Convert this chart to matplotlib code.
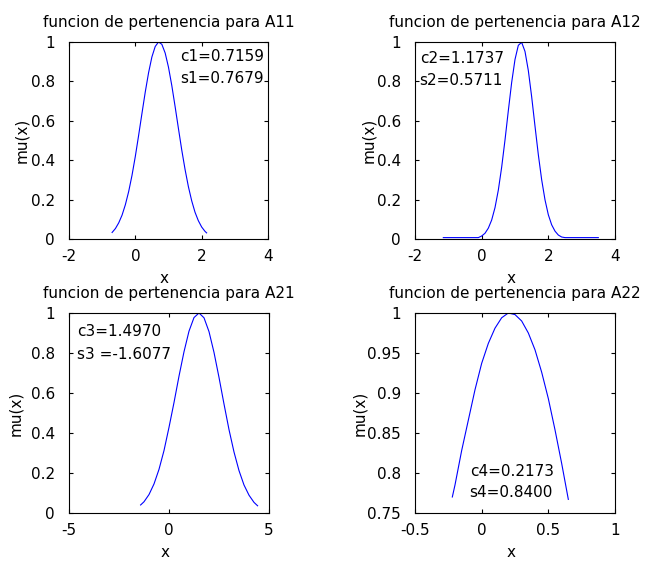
import matplotlib
matplotlib.use("Agg")
import matplotlib.pyplot as plt

# membership curves
x_a11 = [-0.70, -0.60, -0.50, -0.40, -0.30, -0.20, -0.10, 0.00, 0.10, 0.20,
         0.30, 0.40, 0.50, 0.60, 0.70, 0.80, 0.90, 1.00, 1.10, 1.20,
         1.30, 1.40, 1.50, 1.60, 1.70, 1.80, 1.90, 2.00, 2.10, 2.15]
y_a11 = [0.033, 0.053, 0.082, 0.121, 0.174, 0.241, 0.323, 0.419, 0.526, 0.637,
         0.746, 0.844, 0.924, 0.977, 1.000, 0.988, 0.944, 0.872, 0.779, 0.672,
         0.561, 0.452, 0.353, 0.266, 0.194, 0.136, 0.093, 0.061, 0.039, 0.031]

x_a12 = [-1.15, -0.10, 0.00, 0.10, 0.20, 0.30, 0.40, 0.50, 0.60, 0.70,
         0.80, 0.90, 1.00, 1.10, 1.20, 1.30, 1.40, 1.50, 1.60, 1.70,
         1.80, 1.90, 2.00, 2.10, 2.20, 2.30, 2.40, 2.50, 3.50]
y_a12 = [0.007, 0.007, 0.015, 0.029, 0.055, 0.096, 0.159, 0.248, 0.364, 0.502,
         0.651, 0.794, 0.911, 0.983, 0.998, 0.952, 0.855, 0.722, 0.573, 0.428,
         0.301, 0.199, 0.123, 0.072, 0.040, 0.020, 0.010, 0.007, 0.007]

x_a21 = [-1.42, -1.25, -1.00, -0.75, -0.50, -0.25, 0.00, 0.25, 0.50, 0.75,
         1.00, 1.25, 1.50, 1.75, 2.00, 2.25, 2.50, 2.75, 3.00, 3.25,
         3.50, 3.75, 4.00, 4.25, 4.43]
y_a21 = [0.040, 0.056, 0.092, 0.145, 0.218, 0.312, 0.428, 0.552, 0.684, 0.806,
         0.909, 0.977, 1.000, 0.976, 0.907, 0.803, 0.678, 0.545, 0.417, 0.305,
         0.212, 0.140, 0.089, 0.053, 0.036]

x_a22 = [-0.22, -0.20, -0.15, -0.10, -0.05, 0.00, 0.05, 0.10, 0.15, 0.20,
         0.25, 0.30, 0.35, 0.40, 0.45, 0.50, 0.55, 0.60, 0.65]
y_a22 = [0.770, 0.785, 0.828, 0.866, 0.904, 0.937, 0.962, 0.981, 0.994, 1.000,
         0.998, 0.990, 0.975, 0.954, 0.926, 0.893, 0.854, 0.812, 0.767]

titles = ["funcion de pertenencia para A11", "funcion de pertenencia para A12",
          "funcion de pertenencia para A21", "funcion de pertenencia para A22"]
notes = [("c1=0.7159", "s1=0.7679"), ("c2=1.1737", "s2=0.5711"),
         ("c3=1.4970", "s3 =-1.6077"), ("c4=0.2173", "s4=0.8400")]

xticks = [[-2, 0, 2, 4], [-2, 0, 2, 4], [-5, 0, 5], [-0.5, 0, 0.5, 1]]
xtick_labels = [["-2", "0", "2", "4"], ["-2", "0", "2", "4"],
                ["-5", "0", "5"], ["-0.5", "0", "0.5", "1"]]
yticks = [[0, 0.2, 0.4, 0.6, 0.8, 1]] * 3 + [[0.75, 0.8, 0.85, 0.9, 0.95, 1]]
ytick_labels = [["0", "0.2", "0.4", "0.6", "0.8", "1"]] * 3 + \
               [["0.75", "0.8", "0.85", "0.9", "0.95", "1"]]

curves = [(x_a11, y_a11), (x_a12, y_a12), (x_a21, y_a21), (x_a22, y_a22)]

plt.rcParams["font.family"] = ["DejaVu Sans"]
plt.rcParams["font.size"] = 11

fig = plt.figure(figsize=(6.46, 5.61), dpi=100)
rects = [[0.1068, 0.5740, 0.3080, 0.3512],
         [0.6424, 0.5740, 0.3096, 0.3512],
         [0.1068, 0.0856, 0.3096, 0.3565],
         [0.6424, 0.0856, 0.3096, 0.3565]]
# where the notes sit (left x, line 1 y, line 2 y), in data units
note_pos = [(1.346, 0.934, 0.824), (-1.86, 0.925, 0.811),
            (-4.585, 0.915, 0.80), (-0.09, 0.8038, 0.778)]
ylab_x = [-0.2, -0.195, -0.23, -0.24]

for i in range(4):
    ax = fig.add_axes(rects[i])
    ax.plot(curves[i][0], curves[i][1], color="#0000ff", linewidth=0.8)
    ax.set_xlim(xticks[i][0], xticks[i][-1])
    ax.set_ylim(yticks[i][0], yticks[i][-1])
    ax.set_xticks(xticks[i])
    ax.set_xticklabels(xtick_labels[i])
    ax.set_yticks(yticks[i])
    ax.set_yticklabels(ytick_labels[i])
    ax.tick_params(direction="in", length=3, width=0.8, top=True, right=True)
    ax.tick_params(axis="x", pad=7)
    ax.tick_params(axis="y", pad=10)
    for sp in ax.spines.values():
        sp.set_linewidth(0.8)
    ax.set_title(titles[i], fontsize=11, pad=10.8)
    ax.set_xlabel("x")
    ax.set_ylabel("mu(x)")
    ax.xaxis.set_label_coords(0.48, -0.16)
    ax.yaxis.set_label_coords(ylab_x[i], 0.5)
    px, py1, py2 = note_pos[i]
    ax.text(px, py1, notes[i][0], ha="left", va="center_baseline")
    ax.text(px, py2, notes[i][1], ha="left", va="center_baseline")

fig.savefig("out.png", dpi=100)
